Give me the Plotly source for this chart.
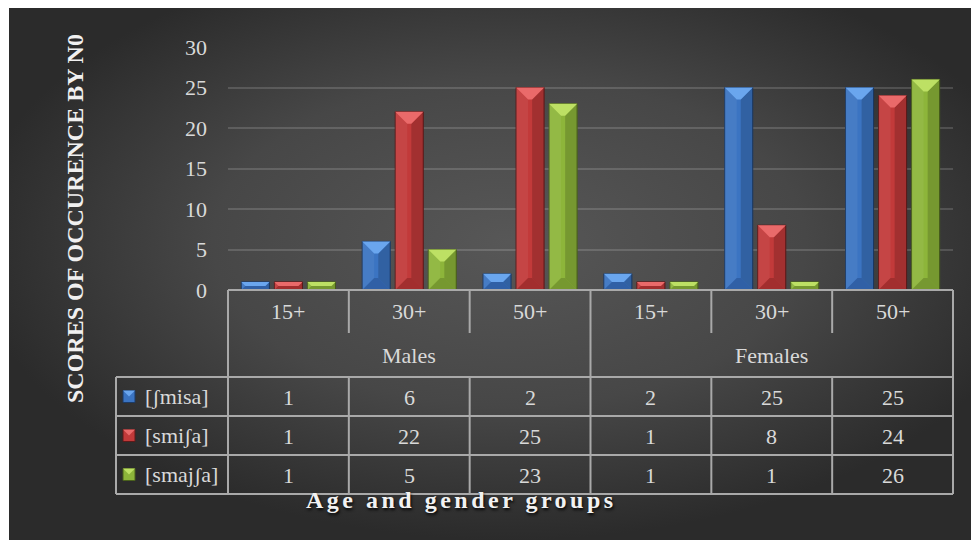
import base64
import plotly.graph_objects as go

# ---- data ----
groups = ["Males", "Females"]
ages = ["15+", "30+", "50+"]
series_names = ["[ʃmisa]", "[smiʃa]", "[smajʃa]"]
misa = [1, 6, 2, 2, 25, 25]
smisa = [1, 22, 25, 1, 8, 24]
smajsa = [1, 5, 23, 1, 1, 26]
y_ticks = [0, 5, 10, 15, 20, 25, 30]

series_values = [misa, smisa, smajsa]
categories = [f"{g} {a}" for g in groups for a in ages]
x_pos = list(range(len(categories)))

# ---- styling ----
W, H = 971, 540
PX0, PX1 = 228, 953          # plot area left/right (px)
PY0, PYT = 290, 47           # y=0 and y=30 (px)
FONT = "Liberation Serif"
TXT = "#d9d9d9"
LINE = "#a9a9a9"
BARGAP, GROUPGAP = 0.18, 0.15

# body, top facet, bottom facet, outline
palette = [
    ("#3b74c2", "#6aa6ee", "#2a5492", "#1d3b66"),
    ("#c23a3a", "#ea6a6a", "#8c2727", "#5e1a1a"),
    ("#8db53a", "#bde064", "#67862a", "#4a611c"),
]


def px(x):
    return x / W


def py(y):
    return 1 - y / H


fig = go.Figure()
for k, (name, vals) in enumerate(zip(series_names, series_values)):
    fig.add_trace(go.Bar(
        x=x_pos, y=vals, name=name,
        marker=dict(color=palette[k][0], line=dict(color=palette[k][3], width=1)),
        showlegend=False, hoverinfo="y+name",
    ))

shapes = []
annotations = []

# bevel facets on each bar
ncat = len(categories)
ux = ncat / (PX1 - PX0)              # data units per px (x)
uy = y_ticks[-1] / (PY0 - PYT)       # data units per px (y)
slot = (1 - BARGAP) / len(series_values)
hw = slot * (1 - GROUPGAP) / 2
for k, vals in enumerate(series_values):
    body, light, dark, edge = palette[k]
    for i, v in enumerate(vals):
        xc = i + (k - (len(series_values) - 1) / 2) * slot
        x0, x1 = xc - hw, xc + hw
        bpx = min(12, (v / uy) / 2, hw / ux)
        bx, by = bpx * ux, bpx * uy
        common = dict(type="path", xref="x", yref="y", line=dict(width=0), layer="above")
        shapes.append(dict(path=f"M{x0},{v} L{x0+bx},{v-by} L{x0+bx},{by} L{x0},0 Z",
                           fillcolor="rgba(255,255,255,0.06)", **common))
        shapes.append(dict(path=f"M{x1},{v} L{x1-bx},{v-by} L{x1-bx},{by} L{x1},0 Z",
                           fillcolor="rgba(0,0,0,0.16)", **common))
        shapes.append(dict(path=f"M{x0},0 L{x1},0 L{x1-bx},{by} L{x0+bx},{by} Z",
                           fillcolor=dark, opacity=0.6, **common))
        shapes.append(dict(path=f"M{x0},{v} L{x1},{v} L{x1-bx},{v-by} L{x0+bx},{v-by} Z",
                           fillcolor=light, **common))


def hline(x0, x1, y):
    shapes.append(dict(type="line", xref="paper", yref="paper", x0=px(x0), x1=px(x1),
                       y0=py(y), y1=py(y), line=dict(color=LINE, width=2), layer="above"))


def vline(x, y0, y1):
    shapes.append(dict(type="line", xref="paper", yref="paper", x0=px(x), x1=px(x),
                       y0=py(y0), y1=py(y1), line=dict(color=LINE, width=2), layer="above"))


# data table under the chart
cat_w = (PX1 - PX0) / ncat
bounds = [PX0 + j * cat_w for j in range(ncat + 1)]
ROW_AGE, ROW_GRP = (290, 333), (333, 377)
row_lines = [377, 416, 455, 494]
LEG_X = 116

hline(PX0, PX1, PY0)
for j, bx_ in enumerate(bounds):
    if j % len(ages) == 0:
        vline(bx_, PY0, row_lines[-1])
    else:
        vline(bx_, PY0, ROW_AGE[1])
        vline(bx_, row_lines[0], row_lines[-1])
vline(LEG_X, row_lines[0], row_lines[-1])
for y in row_lines:
    hline(LEG_X, PX1, y)


def text(x, y, s, size=22, anchor="center", color=TXT, **kw):
    annotations.append(dict(x=px(x), y=py(y), xref="paper", yref="paper", text=s,
                            showarrow=False, xanchor=anchor, yanchor="middle",
                            font=dict(family=FONT, size=size, color=color), **kw))


for i, cat in enumerate(categories):
    age = ages[i % len(ages)]
    text((bounds[i] + bounds[i + 1]) / 2, sum(ROW_AGE) / 2, age)
for g, grp in enumerate(groups):
    a = bounds[g * len(ages)]
    b = bounds[(g + 1) * len(ages)]
    text((a + b) / 2, sum(ROW_GRP) / 2, grp)

for k, (name, vals) in enumerate(zip(series_names, series_values)):
    yc = (row_lines[k] + row_lines[k + 1]) / 2
    for i, v in enumerate(vals):
        text((bounds[i] + bounds[i + 1]) / 2, yc + 1, str(v))
    text(143, yc, name, anchor="left")
    # legend key
    body, light, dark, edge = palette[k]
    kx0, kx1 = 123, 135
    ky0, ky1 = yc - 6, yc + 6
    shapes.append(dict(type="rect", xref="paper", yref="paper", x0=px(kx0), x1=px(kx1),
                       y0=py(ky1), y1=py(ky0), fillcolor=body,
                       line=dict(color=edge, width=1), layer="above"))
    shapes.append(dict(type="path", xref="paper", yref="paper",
                       path=f"M{px(kx0)},{py(ky0)} L{px(kx1)},{py(ky0)} L{px((kx0+kx1)/2)},{py(yc)} Z",
                       fillcolor=light, line=dict(width=0), layer="above"))

# axis titles
annotations.append(dict(x=px(75), y=py(219), xref="paper", yref="paper",
                        text="SCORES OF OCCURENCE BY N0", textangle=-90, showarrow=False,
                        xanchor="center", yanchor="middle",
                        font=dict(family=FONT, size=24, color="#f0f0f0", weight="bold")))
annotations.append(dict(x=px(461), y=py(500), xref="paper", yref="paper",
                        text='<span style="letter-spacing:3.5px">Age and gender groups</span>',
                        showarrow=False, xanchor="center", yanchor="middle",
                        font=dict(family=FONT, size=24, color="#f2f2f2", weight="bold",
                                  shadow="1px 2px 3px rgba(0,0,0,0.9)")))

# radial backdrop
svg = (
    '<svg xmlns="http://www.w3.org/2000/svg" width="962" height="532" '
    'viewBox="0 0 962 532" preserveAspectRatio="none">'
    '<defs><radialGradient id="g" cx="0.52" cy="0.44" r="0.56">'
    '<stop offset="0" stop-color="#575757"/>'
    '<stop offset="0.55" stop-color="#474747"/>'
    '<stop offset="1" stop-color="#2b2b2b"/>'
    '</radialGradient></defs>'
    '<rect width="962" height="532" fill="url(#g)"/></svg>'
)
bg_uri = "data:image/svg+xml;base64," + base64.b64encode(svg.encode()).decode()

fig.update_layout(
    width=W, height=H,
    margin=dict(l=0, r=0, t=0, b=0, pad=0, autoexpand=False),
    paper_bgcolor="white",
    plot_bgcolor="rgba(0,0,0,0)",
    barmode="group", bargap=BARGAP, bargroupgap=GROUPGAP,
    xaxis=dict(domain=[px(PX0), px(PX1)], range=[-0.5, ncat - 0.5],
               showticklabels=False, showgrid=False, zeroline=False, showline=False,
               automargin=False, fixedrange=True),
    yaxis=dict(domain=[py(PY0), py(PYT)], range=[y_ticks[0], y_ticks[-1]],
               tickvals=y_ticks, showgrid=True, gridcolor="rgba(255,255,255,0.15)",
               gridwidth=1.5, zeroline=False, showline=False, ticks="",
               ticklabelstandoff=20, automargin=False,
               tickfont=dict(family=FONT, size=22, color=TXT), fixedrange=True),
    images=[dict(source=bg_uri, xref="paper", yref="paper", x=px(9), y=py(8),
                 sizex=px(W) - px(9), sizey=py(8) - py(H), sizing="stretch",
                 xanchor="left", yanchor="top", layer="below")],
    shapes=shapes,
    annotations=annotations,
)

fig.write_html("out.html")
